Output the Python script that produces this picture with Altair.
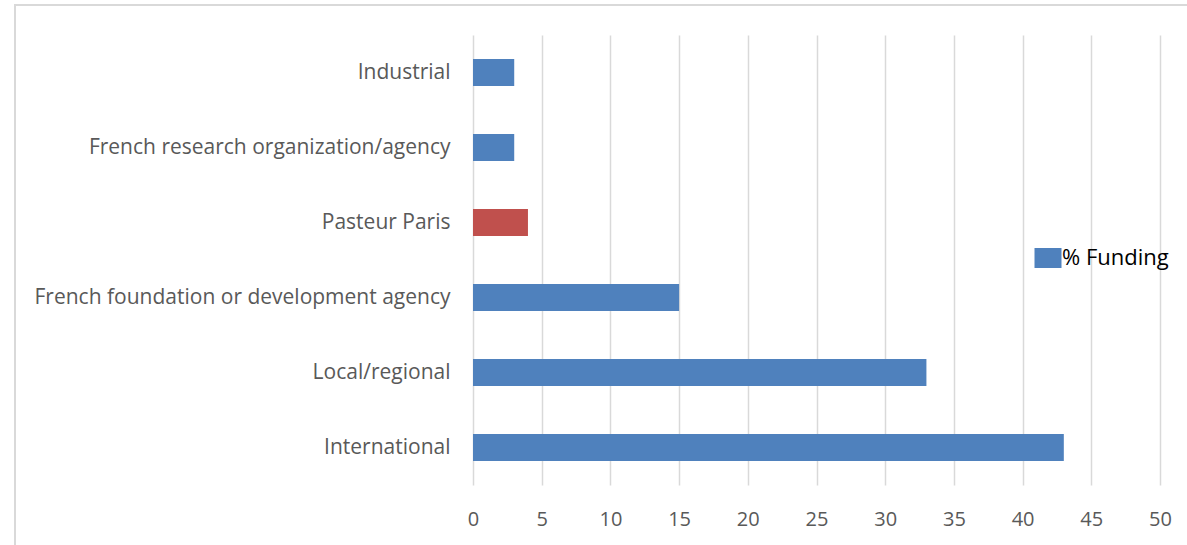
import altair as alt
import pandas as pd

categories = ["Industrial", "French research organization/agency", "Pasteur Paris",
              "French foundation or development agency", "Local/regional", "International"]
funding = [3, 3, 4, 15, 33, 43]
series_name = "% Funding"
highlight = "Pasteur Paris"
x_ticks = [0, 5, 10, 15, 20, 25, 30, 35, 40, 45, 50]

BLUE = "#4f81bd"
RED = "#c0504d"
FONT = "Open Sans"

df = pd.DataFrame({"category": categories, "value": funding, "series": series_name})

W, H = 687, 450
PAD_L, PAD_T = 473, 35

bars = alt.Chart(df).mark_bar().encode(
    y=alt.Y("category:N", sort=categories, title=None,
            scale=alt.Scale(paddingInner=0.64, paddingOuter=0.32),
            axis=alt.Axis(labelFont=FONT, labelFontSize=21, labelColor="#595959",
                          labelPadding=23, ticks=False, domain=False, grid=False,
                          labelLimit=600)),
    x=alt.X("value:Q", title=None,
            scale=alt.Scale(domain=[0, 50], nice=False),
            axis=alt.Axis(values=x_ticks, labelFont=FONT, labelFontSize=20,
                          labelColor="#595959", labelPadding=24, ticks=False,
                          labelFlush=False,
                          domain=False, grid=True, gridColor="#d9d9d9",
                          gridWidth=1.5)),
    color=alt.condition(
        alt.datum.category == highlight,
        alt.value(RED),
        alt.Color("series:N", title=None,
                  scale=alt.Scale(domain=[series_name], range=[BLUE]),
                  legend=alt.Legend(orient="none", legendX=564, legendY=212,
                                    symbolType="M-1.35,-1L1.35,-1L1.35,1L-1.35,1Z",
                                    symbolSize=400, symbolStrokeWidth=0,
                                    symbolOpacity=1,
                                    labelFont=FONT, labelFontSize=22,
                                    labelColor="#000000", labelOffset=3,
                                    padding=0)),
    ),
)

frame = alt.Chart(pd.DataFrame({"k": [0]})).mark_rect(
    fill=None, stroke="#d9d9d9", strokeWidth=2
).encode(
    x=alt.value(15 - PAD_L), y=alt.value(5 - PAD_T),
    x2=alt.value(1187 - PAD_L + 20), y2=alt.value(545 - PAD_T + 20),
)

chart = alt.layer(frame, bars).properties(
    width=W, height=H,
    autosize=alt.AutoSizeParams(type="none"),
    padding={"left": PAD_L, "top": PAD_T, "right": 1187 - PAD_L - W, "bottom": 545 - PAD_T - H},
    background="white",
).configure_view(stroke=None)

chart.save("out.html", embed_options={"renderer": "svg", "actions": False})
